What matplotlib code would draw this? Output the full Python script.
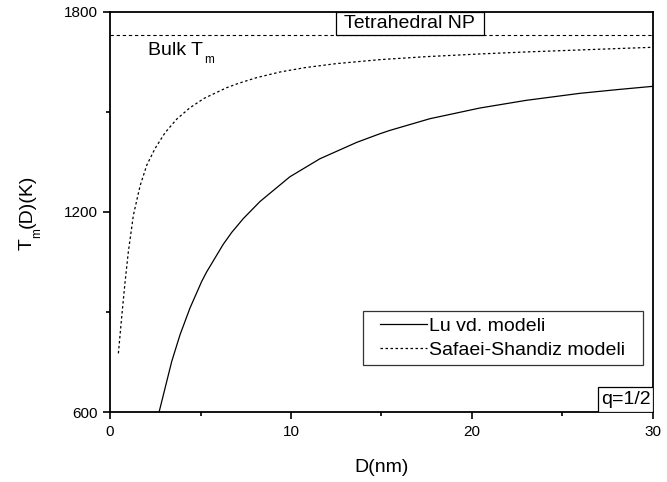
import matplotlib
matplotlib.use("Agg")
import matplotlib.pyplot as plt
from matplotlib.ticker import MultipleLocator
from matplotlib.patches import Rectangle
from matplotlib.legend_handler import HandlerLine2D

plt.rcParams['font.family'] = ['Liberation Sans', 'DejaVu Sans']

# ── data ─────────────────────────────────────────────────────────────
bulk_tm = 1730

lu_d = [2.71, 3.41, 3.87, 4.42, 5.07, 5.34, 6.26, 6.72, 7.37, 8.29, 9.94,
        11.6, 13.63, 14.92, 15.47, 17.68, 20.44, 23.0, 25.97, 28.0, 30.0]
lu_t = [600, 752, 832, 912, 992, 1020, 1103, 1138, 1180, 1231, 1305,
        1359, 1408, 1434, 1444, 1479, 1511, 1534, 1555, 1566, 1576]

ss_d = [0.46, 0.645, 0.83, 1.01, 1.29, 1.66, 2.03, 2.49, 3.04, 3.69, 4.42,
        5.2, 6.45, 7.1, 8.1, 9.4, 10.77, 12.5, 14.92, 17.5, 20.44, 23.0,
        25.97, 30.0]
ss_t = [776, 886, 990, 1080, 1190, 1278, 1340, 1390, 1437, 1478, 1512,
        1540, 1572, 1585, 1602, 1619, 1632, 1644, 1656, 1665, 1673, 1679,
        1685, 1693]

FS = 14

fig = plt.figure(figsize=(6.67, 4.82), dpi=100)
ax = fig.add_axes([0.165, 0.145, 0.8136, 0.831])

ax.plot(lu_d, lu_t, color="black", lw=0.9, label="Lu vd. modeli")
ax.plot(ss_d, ss_t, color="black", lw=0.9, ls=(0, (2, 2)),
        label="Safaei-Shandiz modeli")
ax.axhline(bulk_tm, color="black", lw=0.8, ls=(0, (3, 2.5)))

ax.set_xlim(0, 30)
ax.set_ylim(600, 1800)
ax.xaxis.set_major_locator(MultipleLocator(10))
ax.xaxis.set_minor_locator(MultipleLocator(5))
ax.yaxis.set_major_locator(MultipleLocator(600))
ax.yaxis.set_minor_locator(MultipleLocator(300))
ax.tick_params(which="both", direction="out", width=1.2, labelsize=11)
ax.tick_params(which="major", length=5, pad=4)
ax.tick_params(which="minor", length=3)
for sp in ax.spines.values():
    sp.set_linewidth(1.3)

ax.set_xlabel("D(nm)", fontsize=FS, labelpad=15)

# boxed notes
ax.add_patch(Rectangle((0.416, 0.941), 0.273, 0.059, transform=ax.transAxes,
                       fc="white", ec="black", lw=0.9, zorder=4))
ax.text(0.5525, 0.9705, "Tetrahedral NP", transform=ax.transAxes,
        fontsize=FS, ha="center", va="center", zorder=5)
ax.add_patch(Rectangle((0.8998, 0.0), 0.1002, 0.0624, transform=ax.transAxes,
                       fc="white", ec="black", lw=0.9, zorder=4))
ax.text(0.95, 0.031, "q=1/2", transform=ax.transAxes,
        fontsize=FS, ha="center", va="center", zorder=5)

leg = ax.legend(loc="upper left", bbox_to_anchor=(0.4656, 0.153, 0.517, 0.1),
                mode="expand", fontsize=FS, frameon=True, fancybox=False,
                edgecolor="black", handlelength=3.0, handletextpad=0.1,
                borderpad=0.33, labelspacing=0.32, borderaxespad=0,
                handler_map={plt.Line2D: HandlerLine2D(xpad=0.56)})
leg.get_frame().set_linewidth(0.9)

# text with lowered subscripts, placed piece by piece in pixels
fig.canvas.draw()
renderer = fig.canvas.get_renderer()
H = fig.bbox.height


def text_width(s, size):
    t = fig.text(0, 0, s, fontsize=size)
    w = t.get_window_extent(renderer).width
    t.remove()
    return w


# "Bulk T_m"
x0, base = 148, H - 55
fig.text(x0, base, "Bulk T", fontsize=FS, transform=None,
         ha="left", va="baseline")
fig.text(x0 + text_width("Bulk T", FS) + 1, base - 8, "m", fontsize=8.5,
         transform=None, ha="left", va="baseline")

# y label "T_m(D)(K)" rotated
pieces = [("T", FS, 0), ("m", 8.5, 8), ("(D)(K)", FS, 0)]
total = sum(text_width(s, fs) for s, fs, _ in pieces)
ybase_x = 32
y = H - 212 - total / 2
for s, fs, drop in pieces:
    fig.text(ybase_x + drop, y, s, fontsize=fs, transform=None, rotation=90,
             rotation_mode="anchor", ha="left", va="baseline")
    y += text_width(s, fs)

fig.savefig("out.png", dpi=100)
